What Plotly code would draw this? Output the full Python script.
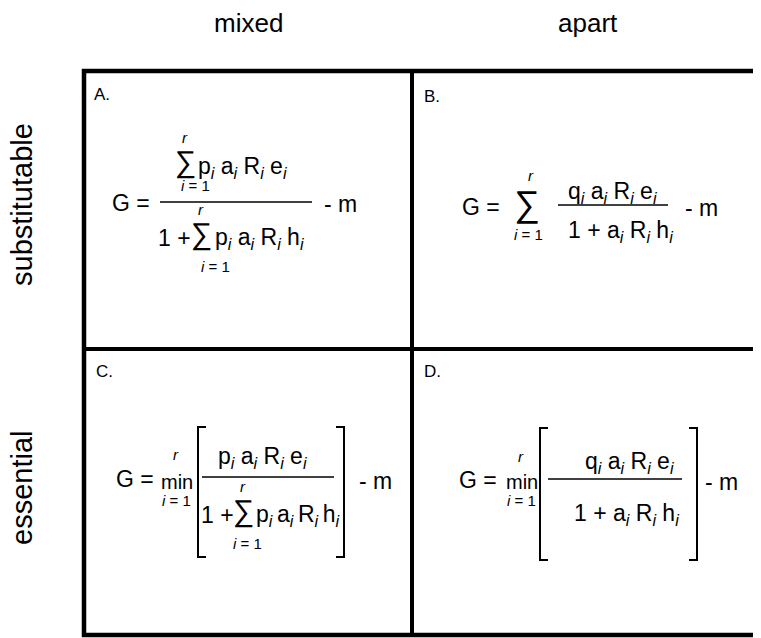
"""Four-panel growth-rate table: resource type (rows) by consumption mode (columns)."""

import plotly.graph_objects as go

# Table labels
COLUMNS = ["mixed", "apart"]
ROWS = ["substitutable", "essential"]
PANELS = ["A.", "B.", "C.", "D."]

# Formula pieces
LHS = "G ="
INDEX = "i"
UPPER = "r"
LOWER = "i = 1"
TAIL = "- m"
ONE_PLUS = "1 +"
MIN_OP = "min"
NUM_MIXED = ["p", "a", "R", "e"]
DEN_MIXED = ["p", "a", "R", "h"]
NUM_APART = ["q", "a", "R", "e"]
DEN_APART = ["a", "R", "h"]

FONT = "Liberation Sans, Arial, sans-serif"
W, H = 761, 638
PAGE_OFFSET = 8  # browser body margin around the plot div
MAIN = 23

fig = go.Figure()
annotations = []
shapes = []


def text(x, y, s, size=MAIN, anchor="left", italic=False, angle=0):
    if italic:
        s = f"<i>{s}</i>"
    annotations.append(dict(
        x=x, y=y, xref="x", yref="y", text=s, showarrow=False,
        xanchor=anchor, yanchor="middle", textangle=angle,
        font={"family": FONT, "size": size, "color": "black"},
    ))


def product(letters, gap=" "):
    return gap.join(f"{c}<sub><i>{INDEX}</i></sub>" for c in letters)


def line(x0, y0, x1, y1, width=1.5):
    shapes.append(dict(type="line", xref="x", yref="y", x0=x0, y0=y0, x1=x1, y1=y1,
                       line={"color": "black", "width": width}))


def limits(r_xy, low_xy):
    text(r_xy[0], r_xy[1], UPPER, size=15, anchor="center", italic=True)
    text(low_xy[0], low_xy[1], LOWER.replace("i", "<i>i</i>", 1), size=15, anchor="center")


def sigma(xy, r_xy, low_xy, size=30):
    text(xy[0], xy[1], "∑", size=size, anchor="center")
    limits(r_xy, low_xy)


def bracket(x, y0, y1, direction):
    shapes.append(dict(type="path", xref="x", yref="y",
                       path=f"M {x + 8 * direction} {y0} L {x} {y0} L {x} {y1} L {x + 8 * direction} {y1}",
                       line={"color": "black", "width": 2}))


# Grid
shapes.append(dict(type="rect", xref="x", yref="y", x0=84, y0=71, x1=762, y1=635,
                   line={"color": "black", "width": 4.5}))
line(412, 71, 412, 635, width=4)
line(84, 349, 762, 349, width=4)

# Headers
text(248, 23, COLUMNS[0], size=26, anchor="center")
text(588, 23, COLUMNS[1], size=26, anchor="center")
text(22, 205, ROWS[0], size=29, anchor="center", angle=-90)
text(22, 488, ROWS[1], size=29, anchor="center", angle=-90)

# Panel letters
for lbl, (px, py) in zip(PANELS, [(92, 94), (422, 96), (94, 371), (422, 371)]):
    text(px, py, lbl, size=17)

# A: substitutable, mixed
text(110, 203, LHS)
sigma((185, 162), (185, 137), (195, 185))
text(196, 167, product(NUM_MIXED))
line(160, 202, 312, 202)
text(156, 238, ONE_PLUS)
sigma((201, 234), (201, 209), (215, 266))
text(213, 238, product(DEN_MIXED))
text(322, 204, TAIL)

# B: substitutable, apart
text(460, 207, LHS)
sigma((527, 203), (531, 175), (528, 234), size=36)
text(566, 192, product(NUM_APART))
line(558, 205, 668, 205)
text(566, 231, f"{ONE_PLUS} {product(DEN_APART)}")
text(683, 208, TAIL)

# C: essential, mixed
text(114, 479, LHS)
text(159, 482, MIN_OP, size=20)
limits((176, 454), (176, 500))
bracket(198, 427, 557, 1)
bracket(344, 427, 557, -1)
text(216, 457, product(NUM_MIXED))
line(202, 477, 334, 477)
text(199, 515, ONE_PLUS)
sigma((243, 511), (243, 486), (247, 543))
text(254, 515, product(DEN_MIXED, gap="\u2009"))
text(357, 481, TAIL)

# D: essential, apart
text(457, 480, LHS)
text(504, 482, MIN_OP, size=20)
limits((521, 456), (521, 500))
bracket(540, 428, 560, 1)
bracket(697, 428, 560, -1)
text(583, 462, product(NUM_APART))
line(548, 479, 682, 479)
text(572, 514, f"{ONE_PLUS} {product(DEN_APART)}")
text(703, 482, TAIL)

fig.update_xaxes(range=[PAGE_OFFSET, W + PAGE_OFFSET], visible=False, fixedrange=True)
fig.update_yaxes(range=[H + PAGE_OFFSET, PAGE_OFFSET], visible=False, fixedrange=True)
fig.update_layout(
    width=W, height=H,
    margin={"l": 0, "r": 0, "t": 0, "b": 0},
    paper_bgcolor="white", plot_bgcolor="white",
    showlegend=False,
    annotations=annotations,
    shapes=shapes,
)

fig.write_html("out.html")
